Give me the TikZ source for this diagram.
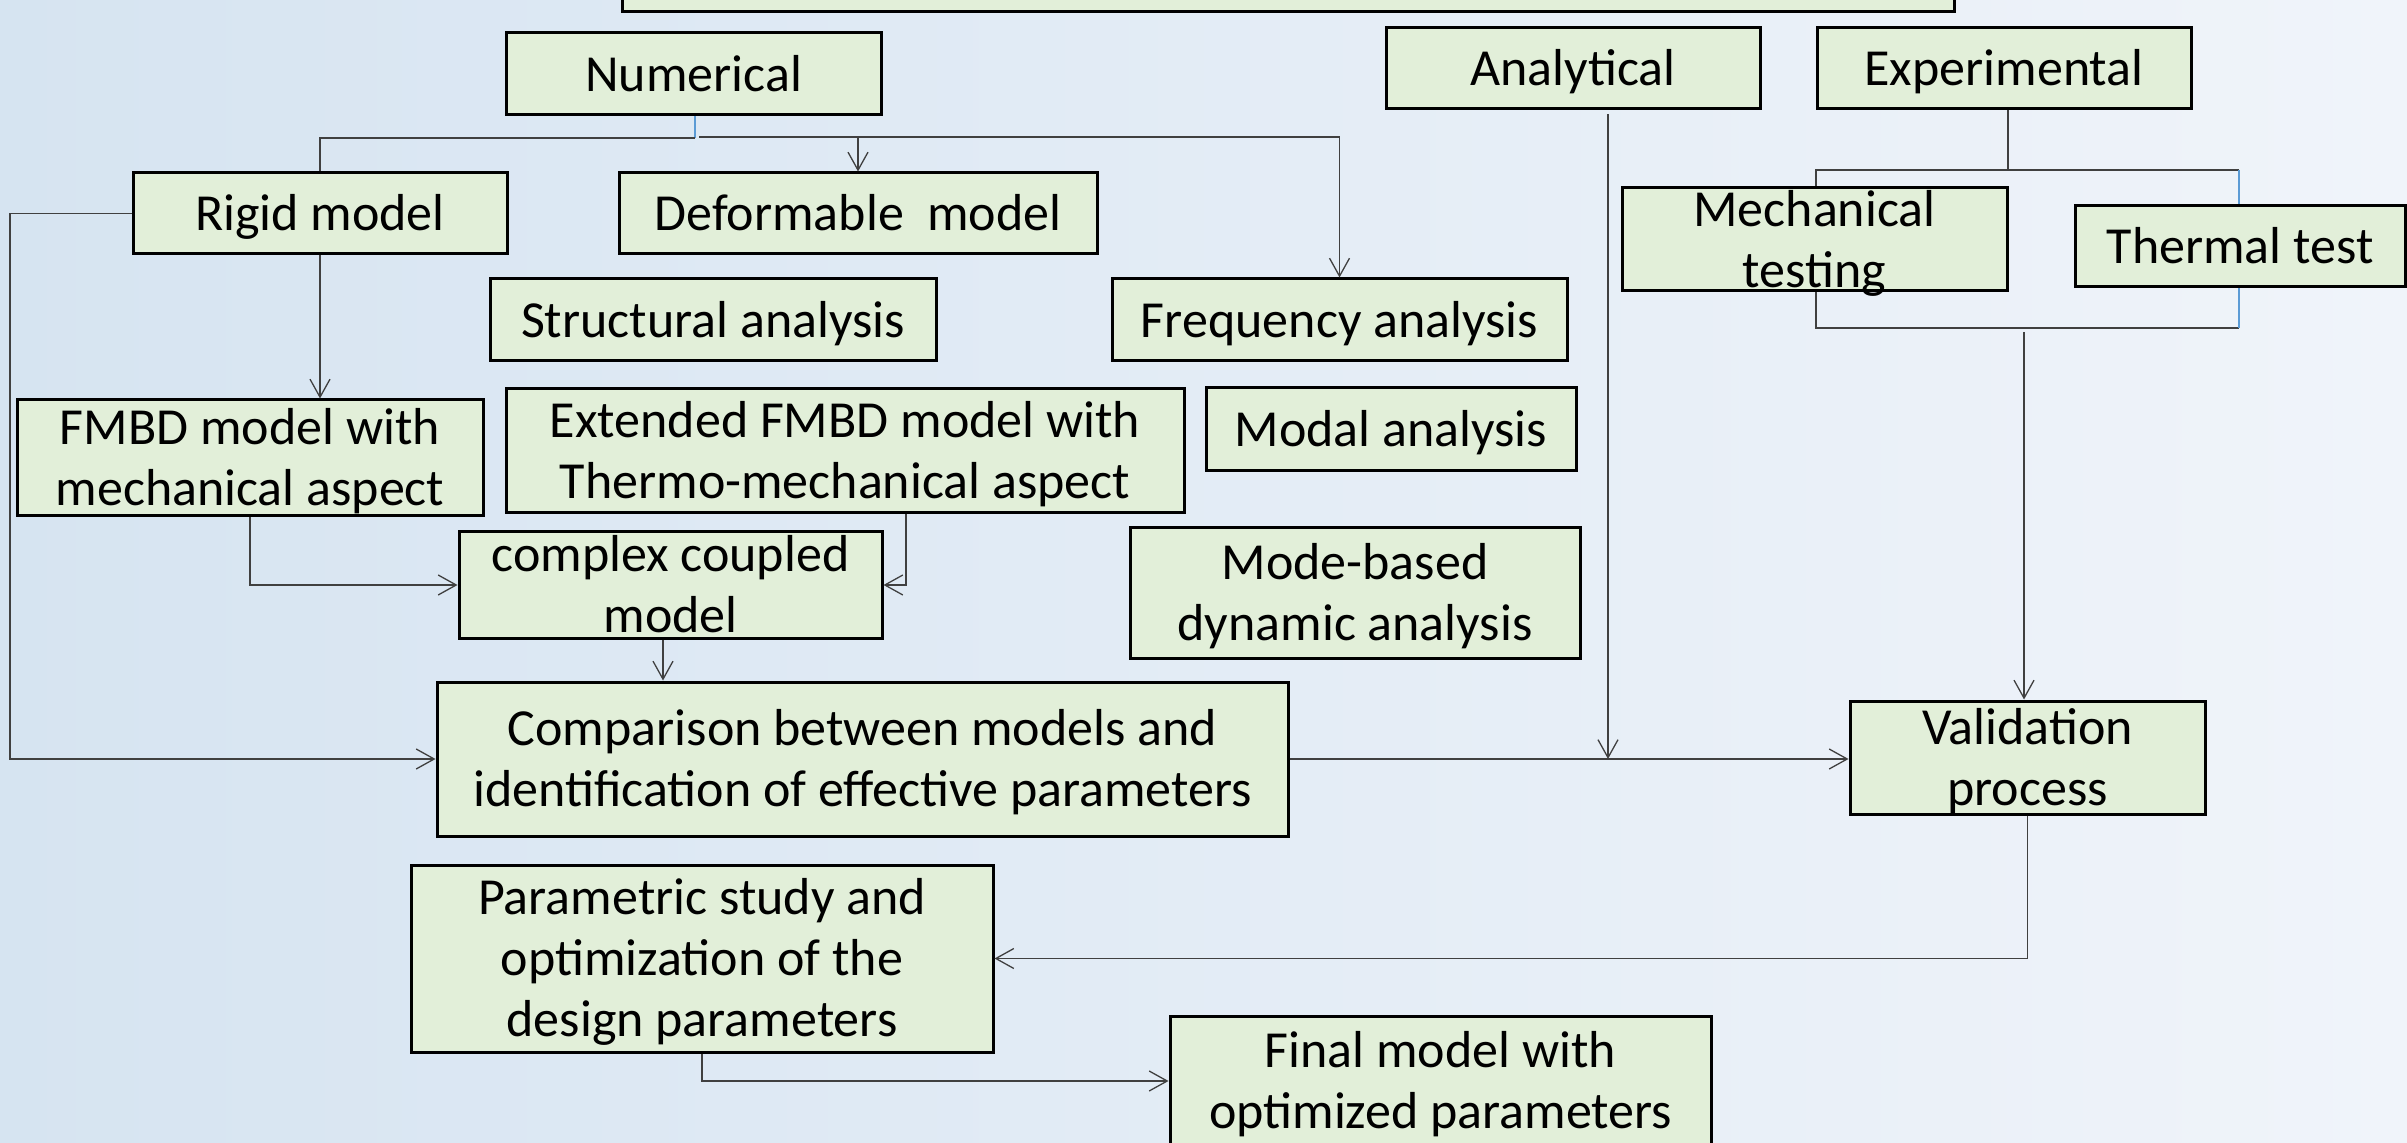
\documentclass[tikz,border=0pt]{standalone}
\usepackage{fontspec}
\setmainfont{Carlito}
\usetikzlibrary{arrows.meta}
\definecolor{boxfill}{RGB}{226,239,217}
\definecolor{bgL}{RGB}{214,228,241}
\definecolor{bgR}{RGB}{240,244,250}
\definecolor{lineblue}{RGB}{91,155,213}
\definecolor{conncol}{RGB}{64,64,64}
\newcommand\ls{\rule[-6.65pt]{0pt}{30.5pt}}
\tikzset{
  box/.style={draw=black, line width=1.5pt, fill=boxfill, rectangle, inner sep=0pt,
    align=center, font=\fontsize{26pt}{30.5pt}\selectfont},
  conn/.style={draw=conncol, line width=0.65pt},
  bluel/.style={draw=lineblue, line width=0.65pt},
  arr/.style={-{Straight Barb[length=9pt,width=10pt]}},
}
\begin{document}
\begin{tikzpicture}[x=0.5pt,y=-0.5pt]
\useasboundingbox (0,0) rectangle (2407,1143);
\shade[left color=bgL, right color=bgR] (0,0) rectangle (2407,1143);

% bracket behind experimental tests
\coordinate (ej) at (2008,170);
\coordinate (bl) at (1816,170);
\coordinate (br) at (2239,170);
\coordinate (bbl) at (1816,328);
\coordinate (bbr) at (2239,328);
\draw[conn] (br) -- (bl) -- (bbl) -- (bbr);
\draw[bluel] (br) -- (bbr);

% boxes
\node[box, minimum width=666pt, minimum height=16pt] (topbox) at (1288,-4) {};
\node[box, minimum width=187.5pt, minimum height=41pt] (num) at (693.5,74) {\ls Numerical};
\node[box, minimum width=187pt, minimum height=40.5pt] (ana) at (1573,68.5) {\ls Analytical};
\node[box, minimum width=187pt, minimum height=40.5pt] (exp) at (2004,68.5) {\ls Experimental};
\node[box, minimum width=187pt, minimum height=40.5pt] (rigid) at (320,213.5) {\ls Rigid model};
\node[box, minimum width=239pt, minimum height=40.5pt] (deform) at (858,213.5) {\ls Deformable\ \ model};
\node[box, minimum width=223pt, minimum height=41pt] (struct) at (713,320) {\ls Structural analysis};
\node[box, minimum width=227.5pt, minimum height=41pt] (freq) at (1339.5,320) {\ls Frequency analysis};
\node[box, minimum width=192.5pt, minimum height=51.5pt, text height=49.6pt, text depth=1.9pt] (mech) at (1814.5,239.5) {\ls Mechanical\\\ls testing};
\node[box, minimum width=165pt, minimum height=40.5pt] (therm) at (2240,246.5) {\ls Thermal test};
\node[box, minimum width=233pt, minimum height=58pt, text height=52.85pt, text depth=5.15pt] (fmbd) at (250,458) {\ls FMBD model with\\\ls mechanical aspect};
\node[box, minimum width=339pt, minimum height=62pt] (ext) at (845,451) {\ls Extended FMBD model with\\\ls Thermo-mechanical aspect};
\node[box, minimum width=185pt, minimum height=41.5pt] (modal) at (1391,429.5) {\ls Modal analysis};
\node[box, minimum width=211.5pt, minimum height=53pt, text height=50.35pt, text depth=2.65pt] (cplx) at (670.5,585) {\ls complex coupled\\\ls model};
\node[box, minimum width=225pt, minimum height=65pt] (mode) at (1355,593) {\ls Mode-based\\\ls dynamic analysis};
\node[box, minimum width=425.5pt, minimum height=77pt] (comp) at (862.5,759) {\ls Comparison between models and\\\ls identification of effective parameters};
\node[box, minimum width=177.5pt, minimum height=56.5pt, text height=52.1pt, text depth=4.4pt] (valid) at (2027.5,757.5) {\ls Validation\\\ls process};
\node[box, minimum width=291pt, minimum height=93.5pt] (param) at (702,958.5) {\ls Parametric study and\\\ls optimization of the\\\ls design parameters};
\node[box, minimum width=270.5pt, minimum height=65pt] (final) at (1440.5,1081) {\ls Final model with\\\ls optimized parameters};

% connectors
\coordinate (nj) at (695,138);
\coordinate (nr) at (699,137);
\draw[bluel] (nj |- num.south) -- (nj);
\draw[conn] (nj) -| (rigid.north);
\draw[conn,arr] (nr) -| (freq.north);
\draw[conn,arr] (deform.north |- nr) -- (deform.north);
\coordinate (lx) at (10,213.5);
\draw[conn,arr] (rigid.west) -- (lx) |- (comp.west);
\draw[conn,arr] (rigid.south) -- (rigid.south |- fmbd.north);
\draw[conn,arr] (fmbd.south) |- (cplx.west);
\coordinate (xj) at (906,0);
\draw[conn,arr] (ext.south -| xj) |- (cplx.east);
\coordinate (cj) at (663,0);
\draw[conn,arr] (cplx.south -| cj) -- (comp.north -| cj);
\draw[conn,arr] (comp.east) -- (comp.east -| valid.west);
\coordinate (aj) at (1608,759);
\draw[conn,arr] (ana.south -| aj) ++(0,4) -- (aj);
\draw[conn] (exp.south -| ej) -- (ej);
\coordinate (vj) at (2024,332);
\draw[conn,arr] (vj) -- (vj |- valid.north);
\draw[conn,arr] (valid.south) |- (param.east);
\draw[conn,arr] (param.south) |- (final.west);
\end{tikzpicture}
\end{document}
